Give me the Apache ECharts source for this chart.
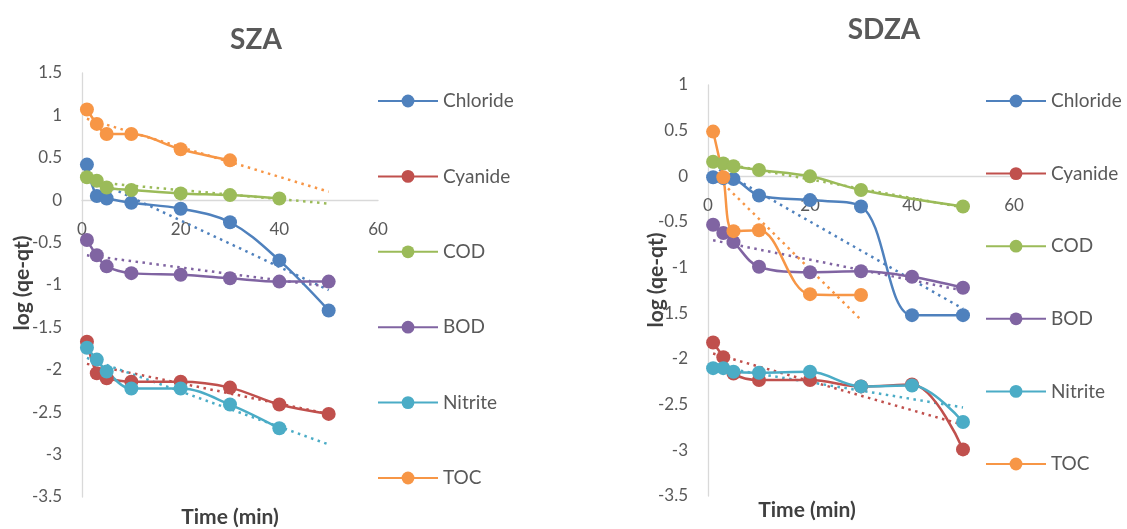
<!DOCTYPE html>
<html>
<head>
<meta charset="utf-8">
<script src="https://cdn.jsdelivr.net/npm/echarts@6/dist/echarts.min.js"></script>
<style>
  html, body { margin: 0; padding: 0; background: #fff; }
  #main { width: 1127px; height: 529px; }
</style>
</head>
<body>
<div id="main"></div>
<script>
// sampling times (min)
var times = [1, 3, 5, 10, 20, 30, 40, 50];
var names = ['Chloride', 'Cyanide', 'COD', 'BOD', 'Nitrite', 'TOC'];
var colors = ['#4F81BD', '#C0504D', '#9BBB59', '#8064A2', '#4BACC6', '#F79646'];
var xTicks = [0, 20, 40, 60];

// SZA log(qe-qt)
var szaChloride = [0.42, 0.05, 0.02, -0.03, -0.10, -0.26, -0.71, -1.30];
var szaCyanide  = [-1.67, -2.04, -2.10, -2.14, -2.14, -2.21, -2.41, -2.52];
var szaCOD      = [0.27, 0.23, 0.15, 0.12, 0.08, 0.06, 0.02, null];
var szaBOD      = [-0.47, -0.65, -0.78, -0.86, -0.88, -0.92, -0.96, -0.96];
var szaNitrite  = [-1.74, -1.88, -2.02, -2.22, -2.22, -2.41, -2.69, null];
var szaTOC      = [1.07, 0.90, 0.78, 0.78, 0.60, 0.47, null, null];

// SDZA log(qe-qt)
var sdzaChloride = [-0.01, -0.02, -0.03, -0.21, -0.26, -0.33, -1.52, -1.52];
var sdzaCyanide  = [-1.82, -1.98, -2.16, -2.23, -2.23, -2.30, -2.28, -2.99];
var sdzaCOD      = [0.16, 0.14, 0.11, 0.07, 0.00, -0.15, null, -0.33];
var sdzaBOD      = [-0.53, -0.62, -0.72, -0.99, -1.05, -1.04, -1.10, -1.22];
var sdzaNitrite  = [-2.10, -2.10, -2.14, -2.15, -2.14, -2.30, -2.29, -2.69];
var sdzaTOC      = [0.49, -0.01, -0.60, -0.59, -1.29, -1.30, null, null];

// linear trendline ends: [t0, v0, t1, v1]
var szaTrends = [
  [1, 0.28, 50, -1.06],
  [1, -1.93, 50, -2.52],
  [1, 0.22, 50, -0.04],
  [1, -0.65, 50, -1.02],
  [1, -1.86, 50, -2.88],
  [1, 0.96, 50, 0.10]
];
var sdzaTrends = [
  [1, 0.11, 50, -1.45],
  [1, -1.94, 50, -2.72],
  [1, 0.16, 50, -0.34],
  [1, -0.70, 50, -1.25],
  [1, -2.08, 50, -2.53],
  [1, 0.03, 30, -1.57]
];

var sza = [szaChloride, szaCyanide, szaCOD, szaBOD, szaNitrite, szaTOC];
var sdza = [sdzaChloride, sdzaCyanide, sdzaCOD, sdzaBOD, sdzaNitrite, sdzaTOC];

var FONT = 'Lato';
var GRAY = '#595959';

function pairs(vals) {
  return vals.map(function (v, i) { return [times[i], v]; });
}

function buildSeries(sets, trends, idx) {
  var out = [];
  trends.forEach(function (tr, i) {
    out.push({
      name: names[i] + ' trend',
      type: 'line',
      xAxisIndex: idx, yAxisIndex: idx,
      data: [[tr[0], tr[1]], [tr[2], tr[3]]],
      showSymbol: false,
      silent: true,
      lineStyle: { color: colors[i], width: 2.5, type: [2.5, 4.5], cap: 'butt' },
      z: 2
    });
  });
  sets.forEach(function (vals, i) {
    out.push({
      name: names[i],
      type: 'line',
      xAxisIndex: idx, yAxisIndex: idx,
      data: pairs(vals),
      connectNulls: true,
      smooth: 0.35,
      symbol: 'circle',
      symbolSize: 14,
      color: colors[i],
      lineStyle: { width: 2.5 },
      z: 3
    });
  });
  return out;
}

// x axis sits on y = 0, so it is shifted up from the grid bottom
function xAx(idx, shift) {
  return {
    type: 'value', gridIndex: idx, min: 0, max: 60, interval: 20,
    position: 'bottom', offset: -shift,
    axisLine: { onZero: false, lineStyle: { color: '#d9d9d9', width: 1.3 } },
    axisTick: { show: false },
    splitLine: { show: false },
    axisLabel: { color: GRAY, fontFamily: FONT, fontSize: 17, margin: 21,
      customValues: xTicks }
  };
}
function yAx(idx, max) {
  return {
    type: 'value', gridIndex: idx, min: -3.5, max: max, interval: 0.5,
    axisLine: { show: true, onZero: false, lineStyle: { color: '#d9d9d9', width: 1.3 } },
    axisTick: { show: false },
    splitLine: { show: false },
    axisLabel: { color: GRAY, fontFamily: FONT, fontSize: 17, margin: 20 }
  };
}
function legend(left, gap) {
  return {
    data: names,
    orient: 'vertical',
    left: left, top: 86,
    itemWidth: 60, itemHeight: 16,
    itemGap: gap,
    textStyle: { color: GRAY, fontFamily: FONT, fontSize: 19, lineHeight: 20 }
  };
}
function txt(x, y, s, size, color, rot) {
  return {
    type: 'text', x: x, y: y, rotation: rot || 0,
    style: {
      text: s, fill: color, fontFamily: FONT, fontWeight: 'bold', fontSize: size,
      align: 'center', verticalAlign: 'middle'
    }
  };
}

var myChart = echarts.init(document.getElementById('main'));
myChart.setOption({
  animation: false,
  backgroundColor: '#fff',
  grid: [
    { left: 82, top: 73, width: 296, height: 424 },
    { left: 708, top: 85, width: 306, height: 411 }
  ],
  xAxis: [xAx(0, 297), xAx(1, 320)],
  yAxis: [yAx(0, 1.5), yAx(1, 1)],
  legend: [legend(372, 55.4), legend(980, 52.6)],
  graphic: [
    txt(256, 40, 'SZA', 28, GRAY),
    txt(884, 30, 'SDZA', 28, GRAY),
    txt(22, 283, 'log (qe-qt)', 21, '#404040', Math.PI / 2),
    txt(656, 280, 'log (qe-qt)', 21, '#404040', Math.PI / 2),
    txt(230, 517, 'Time (min)', 21, '#404040'),
    txt(807, 510, 'Time (min)', 21, '#404040')
  ],
  series: buildSeries(sza, szaTrends, 0).concat(buildSeries(sdza, sdzaTrends, 1))
});
</script>
</body>
</html>
